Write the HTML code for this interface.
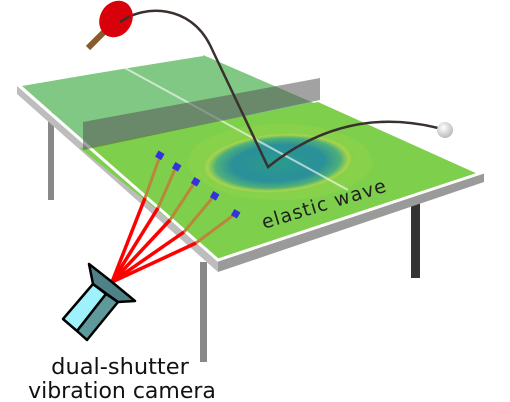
<!DOCTYPE html>
<html><head><meta charset="utf-8"><style>
html,body{margin:0;padding:0;background:#fff;width:510px;height:402px;overflow:hidden}
svg{display:block}
</style></head><body>
<svg width="510" height="402" viewBox="0 0 510 402">
<defs>
<radialGradient id="wave" cx="50%" cy="50%" r="50%">
<stop offset="0" stop-color="#2a9b8c"/><stop offset="0.6" stop-color="#2a8f9a"/><stop offset="0.82" stop-color="#4db07a"/><stop offset="0.93" stop-color="#a8d44a"/><stop offset="1" stop-color="#7ecf4c"/>
</radialGradient>
<radialGradient id="ball" cx="40%" cy="35%" r="65%"><stop offset="0" stop-color="#fff"/><stop offset="1" stop-color="#bbb"/></radialGradient>
</defs>
<rect x="48" y="112" width="6" height="88" fill="#888"/>
<rect x="411" y="195" width="9" height="83" fill="#333"/>
<rect x="200" y="262" width="7" height="100" fill="#888"/>
<polygon points="17,84 218,260 218,272 17,94" fill="#bdbdbd"/>
<polygon points="218,260 484,172 484,182 218,272" fill="#9a9a9a"/>
<polygon points="22,86 203,55 480,175 218,259" fill="#80c884"/>
<polygon points="80,148 318,102 480,175 218,259" fill="#7ecf4c"/>
<ellipse cx="280" cy="162" rx="92" ry="38" fill="#9ad64a" opacity="0.35"/>
<ellipse cx="278" cy="163" rx="76" ry="30" fill="url(#wave)" transform="rotate(-4 278 163)"/>
<line x1="125" y1="68" x2="348" y2="190" stroke="#ffffff" stroke-width="2" opacity="0.6"/>
<polyline points="17,84 218,260 484,172" fill="none" stroke="#fff" stroke-width="3"/>
<line x1="17" y1="85" x2="203" y2="55" stroke="#fff" stroke-width="2"/>
<polygon points="83,122 320,78 320,100 83,150" fill="#555" opacity="0.55"/>
<g stroke="#b8883a" stroke-width="3">
<line x1="160" y1="156" x2="145" y2="198"/>
<line x1="176" y1="167" x2="158" y2="208"/>
<line x1="195" y1="182" x2="170" y2="220"/>
<line x1="214" y1="196" x2="184" y2="232"/>
<line x1="235" y1="214" x2="196" y2="243"/>
</g>
<g fill="#3333dd">
<rect x="156" y="152" width="7" height="7" transform="rotate(30 160 156)"/>
<rect x="173" y="163" width="7" height="7" transform="rotate(30 176 167)"/>
<rect x="192" y="178" width="7" height="7" transform="rotate(30 195 182)"/>
<rect x="211" y="192" width="7" height="7" transform="rotate(30 214 196)"/>
<rect x="232" y="210" width="7" height="7" transform="rotate(30 235 214)"/>
</g>
<g stroke="#ff0000" stroke-width="3.5">
<line x1="145" y1="198" x2="112" y2="282"/>
<line x1="158" y1="208" x2="112" y2="282"/>
<line x1="170" y1="220" x2="112" y2="282"/>
<line x1="184" y1="232" x2="112" y2="282"/>
<line x1="196" y1="243" x2="112" y2="282"/>
</g>
<g stroke="#000" stroke-width="2.5" stroke-linejoin="round">
<polygon points="93,284 63,319 77,331 106,294" fill="#9ff2fb"/>
<polygon points="106,294 77,331 87,340 118,302" fill="#5e9a9c"/>
<polygon points="89,264 112,282 135,301 118,302 93,284" fill="#4e8286"/>
</g>
<text x="0" y="0" transform="translate(264,229) rotate(-17)" font-family="'DejaVu Sans','Liberation Sans',sans-serif" font-size="19" letter-spacing="1" fill="#222">elastic wave</text>
<text x="120" y="374" text-anchor="middle" font-family="'DejaVu Sans','Liberation Sans',sans-serif" font-size="22.5" fill="#111">dual-shutter</text>
<text x="122" y="398" text-anchor="middle" font-family="'DejaVu Sans','Liberation Sans',sans-serif" font-size="22" fill="#111">vibration camera</text>
<path d="M120,22 C145,4 190,5 210,45 L268,167 Q345,105 438,128" fill="none" stroke="#3a302e" stroke-width="2.5"/>
<circle cx="445" cy="130" r="8" fill="url(#ball)"/>
<line x1="88" y1="48" x2="104" y2="32" stroke="#8a5a2a" stroke-width="6"/>
<ellipse cx="116" cy="19" rx="16" ry="19" transform="rotate(30 116 19)" fill="#d8000a"/>
<line x1="120" y1="22" x2="130" y2="16" stroke="#3a302e" stroke-width="2.5"/>
</svg>
</body></html>
